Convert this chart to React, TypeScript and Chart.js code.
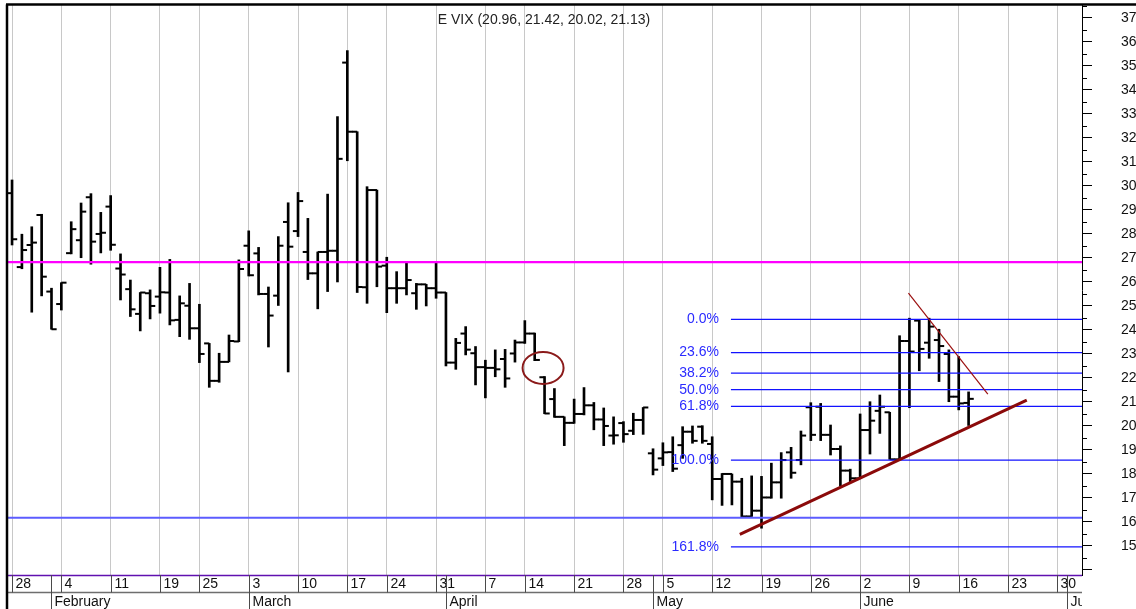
import React, { useEffect, useRef } from 'react';
import { Chart, registerables } from 'chart.js';

Chart.register(...registerables);

// ---- Daily OHLC values (trading-day index 0 = Jan 28) ----
const opens = [
  29.70, 26.62, 27.54, 28.79, 25.60, 25.08, 27.20, 27.74, 29.53, 28.00,
  29.14, 26.56, 25.70, 24.67, 25.53, 25.39, 25.56, 24.42, 25.01, 24.07,
  23.44, 21.88, 22.67, 23.52, 27.51, 27.19, 25.50, 25.43, 28.50, 28.12,
  27.25, 26.36, 27.25, 27.30, 35.14, 32.26, 25.78, 29.83, 26.68, 25.74,
  25.74, 25.53, 25.90, 25.74, 25.56, 22.64, 23.85, 23.03, 22.45, 22.42,
  22.79, 23.02, 23.48, 23.85, 22.03, 21.12, 20.38, 20.13, 20.50, 20.86,
  20.27, 19.60, 20.12, 19.80, 20.25, 18.86, 18.65, 18.91, 19.20, 19.76,
  19.97, 19.25, 17.79, 18.00, 17.68, 16.23, 16.47, 17.02, 17.65, 18.90,
  18.58, 20.78, 20.80, 19.63, 19.04, 18.14, 17.82, 19.83, 20.63, 20.57,
  18.61, 23.54, 24.39, 23.47, 23.58, 23.00, 21.22, 20.96,
];
const highs = [
  30.25, 27.99, 28.30, 28.82, 25.74, 25.97, 28.51, 29.29, 29.68, 28.90,
  29.60, 27.17, 26.08, 25.56, 25.67, 26.61, 26.94, 25.42, 25.94, 25.07,
  23.44, 23.03, 23.79, 26.92, 28.13, 27.44, 25.79, 27.89, 29.30, 29.73,
  28.65, 27.25, 29.66, 32.89, 35.64, 32.26, 29.97, 29.83, 27.03, 26.43,
  26.78, 25.94, 25.90, 26.78, 25.56, 23.65, 24.14, 23.31, 22.74, 23.17,
  23.19, 23.58, 24.39, 23.87, 22.06, 21.56, 20.38, 21.12, 21.60, 20.98,
  20.75, 20.38, 20.18, 20.53, 20.77, 19.05, 19.30, 19.55, 19.97, 20.00,
  20.01, 19.55, 18.02, 18.00, 17.82, 17.92, 17.90, 18.45, 18.89, 19.11,
  19.79, 20.97, 20.94, 20.04, 19.17, 18.20, 20.50, 21.01, 21.29, 20.57,
  23.76, 24.49, 24.42, 24.49, 24.03, 23.17, 22.89, 21.42,
];
const lows = [
  27.54, 26.55, 24.74, 25.42, 24.03, 24.83, 27.17, 27.01, 26.74, 27.21,
  27.32, 25.25, 24.56, 23.96, 24.46, 24.70, 24.21, 23.72, 23.61, 22.64,
  21.61, 21.82, 22.67, 23.51, 26.25, 25.46, 23.29, 25.02, 22.25, 27.89,
  26.10, 24.88, 25.60, 26.00, 31.05, 25.56, 25.11, 25.80, 24.72, 25.11,
  25.46, 24.86, 25.00, 25.32, 22.50, 22.36, 22.96, 21.71, 21.17, 22.05,
  21.61, 22.66, 23.44, 22.72, 20.51, 20.36, 19.18, 20.11, 20.46, 19.84,
  19.18, 19.24, 19.32, 19.64, 19.65, 17.96, 18.35, 18.10, 18.65, 19.28,
  19.28, 16.92, 16.69, 16.71, 16.22, 16.23, 15.74, 16.99, 16.99, 17.82,
  18.38, 19.39, 19.39, 18.79, 17.50, 17.68, 17.82, 18.83, 19.69, 18.61,
  18.58, 20.76, 22.30, 22.82, 21.85, 21.01, 20.67, 20.02,
];
const closes = [
  27.78, 27.33, 27.64, 26.22, 24.03, 25.97, 28.20, 28.93, 27.68, 28.05,
  27.55, 26.31, 24.86, 25.56, 25.00, 25.57, 24.40, 25.11, 24.07, 23.00,
  21.88, 22.67, 23.54, 26.54, 26.28, 25.50, 24.60, 27.51, 27.47, 29.37,
  26.36, 27.25, 27.30, 31.13, 32.26, 25.79, 29.83, 26.64, 25.74, 25.74,
  26.08, 25.90, 25.74, 25.56, 22.64, 23.46, 23.18, 22.45, 22.42, 22.36,
  21.98, 23.48, 23.85, 22.75, 20.52, 20.38, 20.13, 20.50, 20.86, 20.27,
  20.00, 19.61, 19.66, 20.25, 20.77, 18.18, 18.90, 18.22, 19.76, 19.38,
  19.38, 17.79, 18.00, 17.68, 16.23, 16.47, 17.02, 17.65, 18.58, 18.05,
  19.60, 19.63, 19.63, 19.04, 18.14, 17.82, 19.83, 20.22, 20.80, 18.61,
  23.54, 23.10, 23.21, 24.14, 23.33, 21.22, 20.94, 21.13,
];

// ---- Axis labels ----
const weekIdx = [0, 5, 10, 15, 19, 24, 29, 34, 38, 43, 48, 52, 57, 62, 66, 71, 76, 81, 86, 91, 96, 101, 106];
const weekLabels = ['28', '4', '11', '19', '25', '3', '10', '17', '24', '31', '7', '14', '21', '28', '5', '12', '19', '26', '2', '9', '16', '23', '30'];
const monthIdx = [4, 24, 44, 65, 86, 107];
const monthLabels = ['February', 'March', 'April', 'May', 'June', 'July'];
const yTicks = [14, 15, 16, 17, 18, 19, 20, 21, 22, 23, 24, 25, 26, 27, 28, 29, 30, 31, 32, 33, 34, 35, 36, 37];

// ---- Annotations ----
const titleText = 'E VIX (20.96, 21.42, 20.02, 21.13)';
const resistanceLevel = 26.83;
const supportLevel = 16.18;
const fibHigh = 24.44;
const fibLow = 18.58;
const fibPercents = [0, 23.6, 38.2, 50, 61.8, 100, 161.8];
const fibLabels = ['0.0%', '23.6%', '38.2%', '50.0%', '61.8%', '100.0%', '161.8%'];
const fibStartX = 72.9;
const trendUpX = [73.8, 102.9];
const trendUpY = [15.48, 21.08];
const trendDownX = [90.9, 98.95];
const trendDownY = [25.53, 21.33];
const circleCenter = [53.85, 22.42];

const X_MIN = -0.41;
const X_MAX = 108.5;
const Y_MIN = 13.79;
const Y_MAX = 37.54;
const TICK_OFF = 0.26;
const FONT = '"Liberation Sans", Arial, Helvetica, sans-serif';
const FONT_SIZE = 14;

const overlayPlugin = {
  id: 'overlay',
  afterDatasetsDraw(chart: any) {
    const { ctx, chartArea } = chart;
    const xs = chart.scales.x;
    const ys = chart.scales.y;
    ctx.save();
    // circle
    ctx.beginPath();
    ctx.ellipse(xs.getPixelForValue(circleCenter[0]), ys.getPixelForValue(circleCenter[1]), 20.5, 16, 0, 0, Math.PI * 2);
    ctx.strokeStyle = '#8b1a1a';
    ctx.lineWidth = 2;
    ctx.stroke();
    // fib labels
    ctx.font = FONT_SIZE + 'px ' + FONT;
    ctx.fillStyle = '#2b2bff';
    ctx.textAlign = 'right';
    ctx.textBaseline = 'middle';
    const fx = xs.getPixelForValue(fibStartX) - 12;
    fibPercents.forEach((p, k) => {
      const v = fibHigh - (fibHigh - fibLow) * p / 100;
      ctx.fillText(fibLabels[k], fx, ys.getPixelForValue(v));
    });
    // title
    ctx.fillStyle = '#222';
    ctx.textAlign = 'center';
    ctx.fillText(titleText, (chartArea.left + chartArea.right) / 2 - 1, chartArea.top + 15);
    ctx.restore();
  },
  afterDraw(chart: any) {
    const { ctx, chartArea, width, height } = chart;
    const xs = chart.scales.x;
    const ys = chart.scales.y;
    const { left, right, top, bottom } = chartArea;
    ctx.save();
    // minor y ticks
    ctx.strokeStyle = '#000';
    ctx.lineWidth = 1;
    yTicks.forEach((v) => {
      const y = Math.round(ys.getPixelForValue(v + 0.5)) + 0.5;
      if (y < top) return;
      ctx.beginPath();
      ctx.moveTo(right, y);
      ctx.lineTo(right + 5, y);
      ctx.stroke();
    });
    // bottom axis rows
    const row2 = bottom + 17.5;
    ctx.strokeStyle = '#6010b0';
    ctx.lineWidth = 1.5;
    ctx.beginPath();
    ctx.moveTo(left, bottom + 0.5);
    ctx.lineTo(right, bottom + 0.5);
    ctx.stroke();
    ctx.strokeStyle = '#6e6e6e';
    ctx.lineWidth = 1.5;
    ctx.beginPath();
    ctx.moveTo(left, row2);
    ctx.lineTo(right, row2);
    ctx.stroke();

    ctx.beginPath();
    ctx.rect(left, bottom, right - left, height - bottom);
    ctx.clip();
    ctx.font = FONT_SIZE + 'px ' + FONT;
    ctx.fillStyle = '#111';
    ctx.textAlign = 'left';
    ctx.textBaseline = 'middle';
    ctx.strokeStyle = '#4a4a4a';
    ctx.lineWidth = 1;
    weekIdx.forEach((v, k) => {
      const x = Math.round(xs.getPixelForValue(v)) + 0.5;
      ctx.beginPath();
      ctx.moveTo(x, bottom);
      ctx.lineTo(x, row2);
      ctx.stroke();
      ctx.fillText(weekLabels[k], x + 3, bottom + 9);
    });
    monthIdx.forEach((v, k) => {
      const x = Math.round(xs.getPixelForValue(v)) + 0.5;
      ctx.beginPath();
      ctx.moveTo(x, bottom);
      ctx.lineTo(x, height);
      ctx.stroke();
      ctx.fillText(monthLabels[k], x + 3, row2 + 9.5);
    });
    ctx.restore();

    // frame borders
    ctx.save();
    ctx.strokeStyle = '#000';
    ctx.lineWidth = 2.5;
    ctx.beginPath();
    ctx.moveTo(left - 1, top - 0.5);
    ctx.lineTo(left - 1, height);
    ctx.stroke();
    ctx.beginPath();
    ctx.moveTo(left - 2, top - 0.5);
    ctx.lineTo(width, top - 0.5);
    ctx.stroke();
    ctx.restore();
  },
};

const hLine = (yv: number, color: string, w: number, x0: number) => ({
  type: 'line' as const,
  data: [{ x: x0, y: yv }, { x: X_MAX, y: yv }],
  borderColor: color,
  borderWidth: w,
  pointRadius: 0,
  order: 1,
});

export default function App() {
  const ref = useRef<HTMLCanvasElement>(null);
  useEffect(() => {
    if (!ref.current) return;
    const idx = opens.map((_, i) => i);
    const fibSets = fibPercents.map((p) => hLine(fibHigh - (fibHigh - fibLow) * p / 100, '#1212ff', 1.2, fibStartX));
    const chart = new Chart(ref.current, {
      type: 'bar',
      data: {
        datasets: [
          {
            type: 'bar',
            data: idx.map((i) => ({ x: i, y: [lows[i], highs[i]] })) as any,
            backgroundColor: '#000',
            borderWidth: 0,
            barThickness: 2,
            grouped: false,
            order: 5,
          },
          {
            type: 'scatter',
            data: idx.map((i) => ({ x: i - TICK_OFF, y: opens[i] })),
            pointStyle: 'line',
            pointRadius: 2.6,
            pointBorderWidth: 2,
            pointBorderColor: '#000',
            pointBackgroundColor: '#000',
            borderColor: '#000',
            order: 4,
          } as any,
          {
            type: 'scatter',
            data: idx.map((i) => ({ x: i + TICK_OFF, y: closes[i] })),
            pointStyle: 'line',
            pointRadius: 2.6,
            pointBorderWidth: 2,
            pointBorderColor: '#000',
            pointBackgroundColor: '#000',
            borderColor: '#000',
            order: 4,
          } as any,
          hLine(resistanceLevel, '#ff00ff', 2.2, X_MIN),
          hLine(supportLevel, '#5c5cff', 2, X_MIN),
          ...fibSets,
          {
            type: 'line',
            data: trendUpX.map((x, k) => ({ x, y: trendUpY[k] })),
            borderColor: '#8b0a0a',
            borderWidth: 3,
            pointRadius: 0,
            order: 0,
          },
          {
            type: 'line',
            data: trendDownX.map((x, k) => ({ x, y: trendDownY[k] })),
            borderColor: '#9b1010',
            borderWidth: 1.2,
            pointRadius: 0,
            order: 0,
          },
        ] as any,
      },
      options: {
        responsive: false,
        devicePixelRatio: 1,
        animation: false,
        events: [],
        layout: { autoPadding: false, padding: { left: 8, top: 5, right: 0, bottom: 0 } },
        plugins: { legend: { display: false }, tooltip: { enabled: false }, title: { display: false } },
        scales: {
          x: {
            type: 'linear',
            min: X_MIN,
            max: X_MAX,
            offset: false,
            position: 'bottom',
            afterBuildTicks: (s: any) => {
              s.ticks = weekIdx.map((v) => ({ value: v }));
            },
            afterFit: (s: any) => {
              s.height = 34;
              s.paddingLeft = 0;
              s.paddingRight = 0;
              s.paddingTop = 0;
              s.paddingBottom = 0;
            },
            ticks: { display: false },
            grid: { display: true, offset: false, drawTicks: false, color: '#c8c8c8', lineWidth: 1 },
            border: { display: false },
          },
          y: {
            type: 'linear',
            position: 'right',
            min: Y_MIN,
            max: Y_MAX,
            afterBuildTicks: (s: any) => {
              s.ticks = yTicks.map((v) => ({ value: v }));
            },
            afterFit: (s: any) => {
              s.width = 54;
              s.paddingTop = 0;
              s.paddingBottom = 0;
              s.paddingLeft = 0;
              s.paddingRight = 0;
            },
            ticks: {
              padding: 29,
              crossAlign: 'near',
              color: '#111',
              font: { family: FONT, size: FONT_SIZE },
              callback: (v: any) => (v === 14 ? '' : String(v)),
            },
            grid: { drawOnChartArea: false, drawTicks: true, tickLength: 10, tickColor: '#000', color: '#000' },
            border: { display: true, color: '#000', width: 1 },
          },
        },
      } as any,
      plugins: [overlayPlugin],
    });
    return () => chart.destroy();
  }, []);
  return (
    <canvas
      ref={ref}
      width={1136}
      height={609}
      style={{ position: 'absolute', left: 0, top: 0, width: '1136px', height: '609px', display: 'block' }}
    />
  );
}
